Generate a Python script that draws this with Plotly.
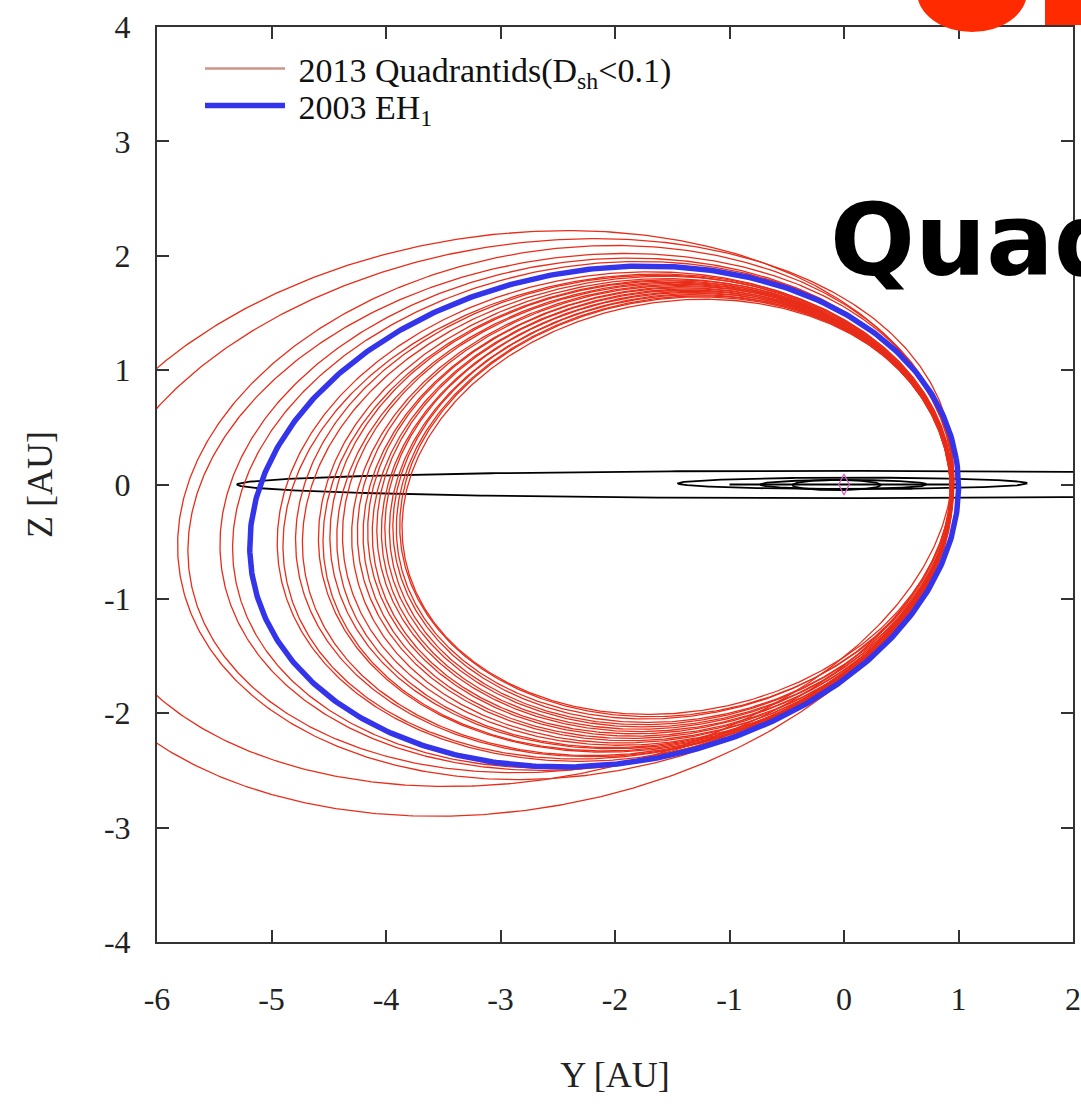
import numpy as np
import plotly.graph_objects as go

# ---- data (projected orbits on the Y-Z plane, AU) ----
# Each orbit is described by its extents (left/right in Y, top/bottom in Z) and tilt (deg)
qua_left = [-6.94, -6.58, -5.82, -5.73, -5.45, -5.34, -4.95, -4.90, -4.79, -4.73,
            -4.59, -4.55, -4.49, -4.43, -4.38, -4.30, -4.25, -4.20, -4.16, -4.12,
            -4.08, -4.04, -4.01, -3.97, -3.94, -3.91, -3.88, -3.86]
qua_right = [0.95, 0.95, 0.96, 0.95, 0.96, 0.95, 0.94, 0.95, 0.94, 0.95,
             0.94, 0.95, 0.94, 0.94, 0.95, 0.93, 0.94, 0.95, 0.93, 0.94,
             0.93, 0.94, 0.93, 0.94, 0.93, 0.93, 0.94, 0.93]
qua_top = [2.22, 2.15, 2.09, 2.02, 1.98, 1.95, 1.86, 1.84, 1.83, 1.82,
           1.80, 1.79, 1.78, 1.77, 1.76, 1.75, 1.74, 1.73, 1.72, 1.71,
           1.70, 1.69, 1.68, 1.67, 1.66, 1.65, 1.64, 1.62]
qua_bottom = [-2.90, -2.64, -2.58, -2.52, -2.50, -2.48, -2.42, -2.40, -2.38, -2.37,
              -2.34, -2.33, -2.31, -2.30, -2.28, -2.26, -2.24, -2.22, -2.20, -2.18,
              -2.16, -2.14, -2.12, -2.10, -2.08, -2.05, -2.03, -2.01]
qua_tilt = [9, 10, 9, 10, 9, 10, 9, 10, 9, 10,
            9, 10, 9, 10, 9, 10, 9, 10, 9, 10,
            9, 10, 9, 10, 9, 10, 9, 10]

eh1_left, eh1_right, eh1_top, eh1_bottom, eh1_tilt = -5.19, 1.00, 1.91, -2.47, 9.3

planet_names = ["Mercury", "Venus", "Earth", "Mars", "Jupiter"]
planet_left = [-0.45, -0.73, -1.00, -1.45, -5.30]
planet_right = [0.32, 0.72, 1.00, 1.60, 5.10]
planet_top = [0.04, 0.04, 0.00, 0.06, 0.12]
planet_bottom = [-0.05, -0.04, 0.00, -0.04, -0.12]

sun_y, sun_z = [0.0], [0.0]

x_ticks = [-6, -5, -4, -3, -2, -1, 0, 1, 2]
x_tick_labels = ["-6", "-5", "-4", "-3", "-2", "-1", "0", "1", "2"]
z_ticks = [-4, -3, -2, -1, 0, 1, 2, 3, 4]
z_tick_labels = ["-4", "-3", "-2", "-1", "0", "1", "2", "3", "4"]


def ellipse(L, R, T, B, tilt_deg, n=600):
    cy, cz = (L + R) / 2, (T + B) / 2
    W, H = (R - L) / 2, (T - B) / 2
    th = np.radians(tilt_deg)
    c, s, c2 = np.cos(th), np.sin(th), np.cos(2 * th)
    a = np.sqrt(max((W * W * c * c - H * H * s * s) / c2, 0))
    b = np.sqrt(max((H * H * c * c - W * W * s * s) / c2, 0))
    t = np.linspace(0, 2 * np.pi, n)
    y = cy + a * np.cos(t) * c - b * np.sin(t) * s
    z = cz + a * np.cos(t) * s + b * np.sin(t) * c
    return y, z


fig = go.Figure()

# planets (black)
py, pz = [], []
for L, R, T, B in zip(planet_left, planet_right, planet_top, planet_bottom):
    y, z = ellipse(L, R, T, B, 0)
    py += list(y) + [None]
    pz += list(z) + [None]
fig.add_trace(go.Scatter(x=py, y=pz, mode="lines", line=dict(color="black", width=1.8),
                         showlegend=False, hoverinfo="skip"))

# Quadrantids (red)
qy, qz = [], []
for L, R, T, B, th in zip(qua_left, qua_right, qua_top, qua_bottom, qua_tilt):
    y, z = ellipse(L, R, T, B, th)
    qy += list(y) + [None]
    qz += list(z) + [None]
fig.add_trace(go.Scatter(x=qy, y=qz, mode="lines", line=dict(color="rgb(232,45,25)", width=1.3),
                         showlegend=False, hoverinfo="skip"))

# legend entry for Quadrantids
fig.add_trace(go.Scatter(x=[None], y=[None], mode="lines",
                         line=dict(color="rgb(205,150,140)", width=2.5),
                         name="&nbsp;2013 Quadrantids(D<sub>sh</sub>&lt;0.1)", legend="legend"))

# 2003 EH1 (blue)
by, bz = ellipse(eh1_left, eh1_right, eh1_top, eh1_bottom, eh1_tilt)
fig.add_trace(go.Scatter(x=by, y=bz, mode="lines", line=dict(color="rgb(52,52,235)", width=5.5),
                         name="&nbsp;2003 EH<sub>1</sub>", legend="legend2"))

# Sun
fig.add_trace(go.Scatter(x=sun_y, y=sun_z, mode="markers",
                         marker=dict(symbol="diamond-tall-open", size=15, color="rgb(215,90,200)",
                                     line=dict(width=1.2)),
                         showlegend=False, hoverinfo="skip"))

serif = "Liberation Serif"
axis_common = dict(showgrid=False, zeroline=False, showline=True, linecolor="#333", linewidth=2,
                   mirror="ticks", ticks="inside", ticklen=12, tickwidth=1.5, tickcolor="#333",
                   automargin=False,
                   tickfont=dict(family=serif, size=32, color="#222"))

leg_font = dict(family=serif, size=34, color="#111")
fig.update_layout(
    width=1081, height=1117,
    margin=dict(l=157, r=8, t=27, b=175),
    plot_bgcolor="white", paper_bgcolor="white",
    xaxis=dict(range=[-6, 2], tickvals=x_ticks, ticktext=x_tick_labels, ticklabelstandoff=28,
               title=dict(text="Y [AU]", font=dict(family=serif, size=36, color="#222"), standoff=45),
               **axis_common),
    yaxis=dict(range=[-4, 4], tickvals=z_ticks, ticktext=z_tick_labels, ticklabelstandoff=18,
               title=dict(text="Z [AU]", font=dict(family=serif, size=36, color="#222"), standoff=40),
               **axis_common),
    legend=dict(x=(200 - 157) / 916, y=(942 - 69) / 915, xanchor="left", yanchor="middle",
                itemwidth=80, bgcolor="rgba(0,0,0,0)", font=leg_font),
    legend2=dict(x=(200 - 157) / 916, y=(942 - 106) / 915, xanchor="left", yanchor="middle",
                 itemwidth=80, bgcolor="rgba(0,0,0,0)", font=leg_font),
    annotations=[dict(text="<b>Quad</b>", xref="paper", yref="paper", x=0.733, y=0.767,
                      xanchor="left", yanchor="middle", showarrow=False,
                      font=dict(family="DejaVu Sans", size=100, color="black"))],
    shapes=[
        dict(type="circle", xref="paper", yref="paper", x0=(917 - 157) / 916, x1=(1027 - 157) / 916,
             y0=(942 - 32) / 915, y1=(942 + 48) / 915, fillcolor="#ff2a00", line=dict(width=0),
             layer="above"),
        dict(type="rect", xref="paper", yref="paper", x0=(1045 - 157) / 916, x1=(1090 - 157) / 916,
             y0=(942 - 25) / 915, y1=(942 + 20) / 915, fillcolor="#ff2a00", line=dict(width=0),
             layer="above"),
    ],
)

fig.write_html("out.html")
